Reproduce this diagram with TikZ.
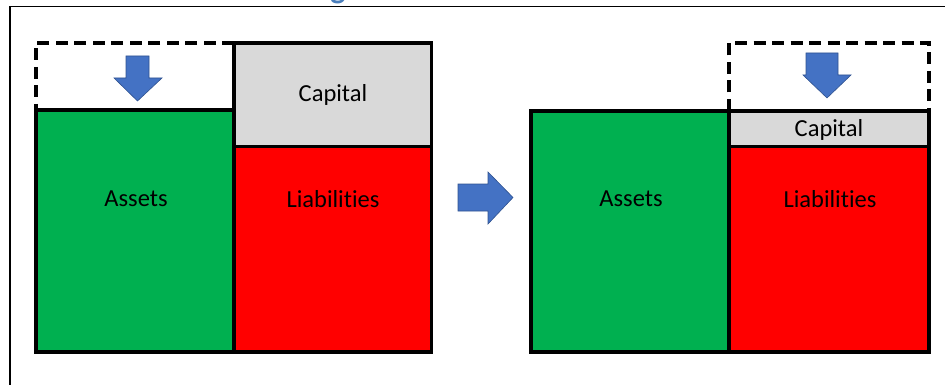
\documentclass[tikz,border=0pt]{standalone}
\usepackage{fontspec}
\setmainfont[Ligatures={NoCommon}]{Carlito}
\definecolor{assetgreen}{HTML}{00B050}
\definecolor{liabred}{HTML}{FF0000}
\definecolor{capgray}{HTML}{D9D9D9}
\definecolor{arrowblue}{HTML}{4472C4}
\definecolor{arrowedge}{HTML}{2F528F}
\definecolor{titleblue}{HTML}{4A7EBB}
\tikzset{
  box/.style={draw=black, line width=3.8pt},
  dashbox/.style={draw=black, line width=3.4pt, dash pattern=on 12pt off 6.5pt},
  lbl/.style={font=\fontsize{24.5}{28}\selectfont, text=black, inner sep=0pt},
  blockarrow/.style={fill=arrowblue, draw=arrowedge, line width=0.6pt},
  frameline/.style={draw=black, line width=1.8pt}
}
\begin{document}
\begin{tikzpicture}[x=1pt,y=-1pt]
\useasboundingbox (0,0) rectangle (945,385);
% outer frame (partial)
\draw[frameline] (10,385) -- (10,6.5) -- (945,6.5);
\node[font=\fontsize{32}{36}\bfseries, text=titleblue, anchor=base, inner sep=0pt] (titleg) at (338,-1.5) {g};
% left diagram
\fill[assetgreen] (36,110) rectangle (234,351.7);
\fill[capgray] (234,43) rectangle (431.5,146.5);
\fill[liabred] (234,146.5) rectangle (431.5,351.7);
\draw[box] (36,110) rectangle (234,351.7);
\draw[box] (234,43) rectangle (431.5,146.5);
\draw[box] (234,146.5) rectangle (431.5,351.7);
\draw[dashbox] (234,43) -- (36,43) -- (36,110) -- (234,110);
\node[lbl] (assetsL) at (136,199) {Assets};
\node[lbl] (capitalL) at (333,95) {Capital};
\node[lbl] (liabL) at (333,199) {Liabilities};
\draw[blockarrow] (126,56) -- (149,56) -- (149,78) -- (162,78) -- (137.5,101) -- (114,78) -- (126,78) -- cycle;
% middle arrow
\draw[blockarrow] (458,184) -- (488,184) -- (488,172) -- (513,197.5) -- (488,224) -- (488,211) -- (458,211) -- cycle;
% right diagram
\fill[assetgreen] (531,111) rectangle (729,351.7);
\fill[capgray] (729,111) rectangle (929,146.5);
\fill[liabred] (729,146.5) rectangle (929,351.7);
\draw[box] (531,111) rectangle (729,351.7);
\draw[box] (729,111) rectangle (929,146.5);
\draw[box] (729,146.5) rectangle (929,351.7);
\draw[dashbox] (729,111) -- (729,43) -- (929,43) -- (929,111);
\node[lbl] (assetsR) at (631,199) {Assets};
\node[lbl] (capitalR) at (829,130) {Capital};
\node[lbl] (liabR) at (830,199) {Liabilities};
\draw[blockarrow] (806,53) -- (838,53) -- (838,75) -- (851,75) -- (827,98) -- (803,75) -- (806,75) -- cycle;
\end{tikzpicture}
\end{document}
